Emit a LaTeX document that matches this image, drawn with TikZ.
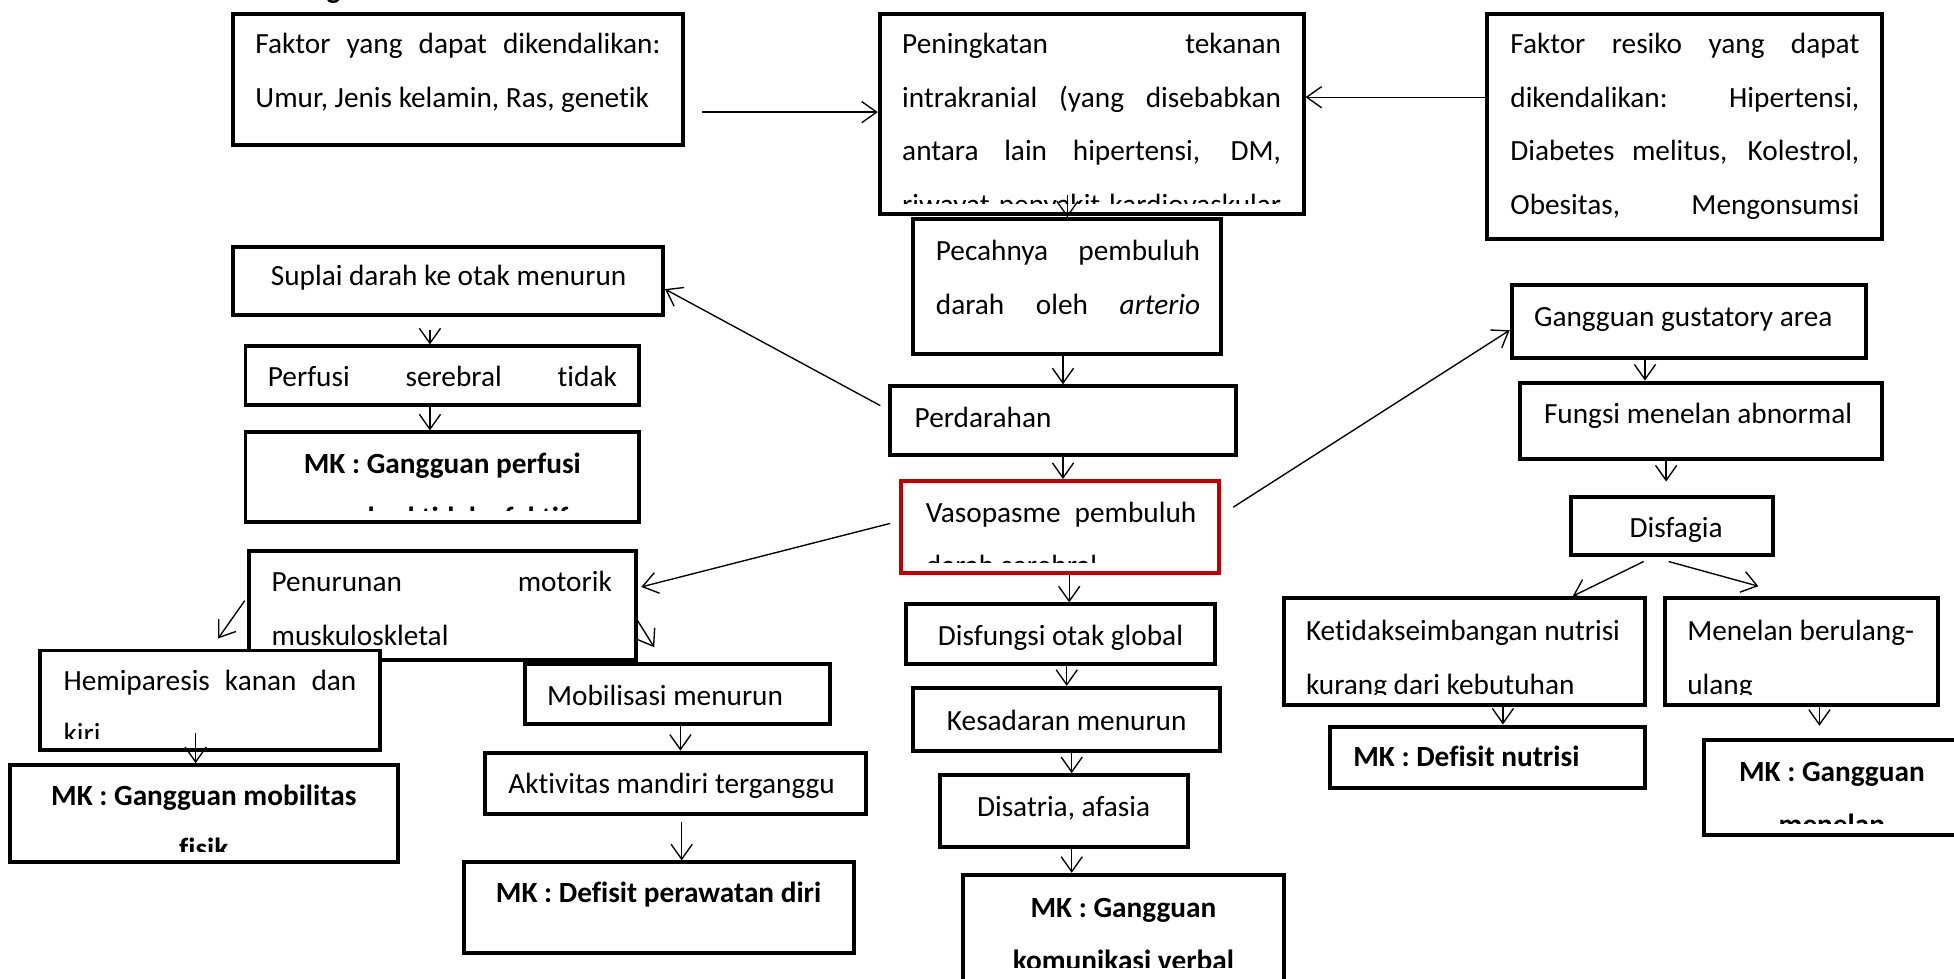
\documentclass[tikz,border=0pt]{standalone}
\usepackage{fontspec}
\setmainfont{Carlito}[Ligatures=NoCommon]
\usetikzlibrary{arrows.meta,fit}
\definecolor{boxred}{HTML}{C00000}
\newcommand{\fs}{\fontsize{11.75}{21.5}\selectfont}
\newcommand{\jl}[2]{\makebox[#1][s]{#2}}
\begin{document}
\begin{tikzpicture}[x=0.5pt,y=-0.5pt,
  box/.style={draw=black, line width=1.6pt, fill=white, inner sep=0pt, rectangle},
  redbox/.style={box, draw=boxred},
  arr/.style={-{Straight Barb[length=6pt,width=8.5pt]}, line width=0.55pt},
  lbl/.style={inner sep=0pt, outer sep=0pt, font=\fs},
  one/.style={lbl, anchor=base west},
  cone/.style={lbl, anchor=base},
  multi/.style={lbl, anchor=base west, align=flush left},
  cmulti/.style={lbl, anchor=base, align=flush center},
  bold/.style={font=\fs\bfseries}]
\useasboundingbox (0,0) rectangle (1568,785);
\fill[white] (0,0) rectangle (1568,785);
\clip (0,0) rectangle (1568,785);

% fragment at the top edge
\node[one, bold] (frag) at (262,-1) {g};

% ---- top row
\node[box, fit={(187,11) (548,116)}] (B1) {};
\node[multi, text width=164pt] (t1) at (205,43) {\jl{162.5pt}{Faktor yang dapat dikendalikan:}\\ Umur, Jenis kelamin, Ras, genetik};

\node[box, fit={(706,11) (1046,172)}] (B2) {};
\begin{scope}
\clip (706,11) rectangle (1046,163);
\node[multi, text width=153pt] (t2) at (724,43) {\jl{152pt}{Peningkatan tekanan}\\ \jl{152pt}{intrakranial (yang disebabkan}\\ \jl{152pt}{antara lain hipertensi, DM,}\\ \jl{152pt}{riwayat penyakit kardiovaskular}};
\end{scope}

\node[box, fit={(1193,11) (1510,192)}] (B3) {};
\node[multi, text width=141pt] (t3) at (1212,43) {\jl{140pt}{Faktor resiko yang dapat}\\ \jl{140pt}{dikendalikan: Hipertensi,}\\ \jl{140pt}{Diabetes melitus, Kolestrol,}\\ \jl{140pt}{Obesitas, Mengonsumsi}};

% ---- central column
\node[box, fit={(733,176) (980,284)}] (B4) {};
\node[multi, text width=107pt] (t4) at (751,209) {\jl{106pt}{Pecahnya pembuluh}\\ \jl{106pt}{darah oleh \textit{arterio}}};

\node[box, fit={(714,310) (992,365)}] (B5) {};
\node[one] (t5) at (734,343) {Perdarahan};

\node[redbox, fit={(723,386) (978,460)}] (Vaso) {};
\begin{scope}
\clip (723,386) rectangle (978,451);
\node[multi, text width=110pt] (t6) at (743,419) {\jl{108.5pt}{Vasopasme pembuluh}\\ darah serebral};
\end{scope}

\node[box, fit={(727,485) (975,533)}] (Disf) {};
\node[cone] (t7) at (851,518) {Disfungsi otak global};

\node[box, fit={(733,552) (979,603)}] (Kes) {};
\node[cone] (t8) at (856,586) {Kesadaran menurun};

\node[box, fit={(754,622) (953,680)}] (Dis) {};
\node[cone] (t9) at (853.5,655) {Disatria, afasia};

\node[box, fit={(773,702) (1030,792)}] (MKkom) {};
\begin{scope}
\clip (773,702) rectangle (1030,776);
\node[cmulti, bold, text width=125pt] (t10) at (901.5,736) {MK : Gangguan\\ komunikasi verbal};
\end{scope}

% ---- left column
\node[box, fit={(187,198) (532,253)}] (Sup) {};
\node[cone] (t11) at (360,229) {Suplai darah ke otak menurun};

\node[box, fit={(197,278) (513,325)}] (Perf) {};
\node[one] (t12) at (215,310) {\jl{140pt}{Perfusi serebral tidak}};

\node[box, fit={(197,347) (513,419)}] (MKperf) {};
\begin{scope}
\clip (197,347) rectangle (513,410);
\node[cmulti, bold, text width=150pt] (t13) at (355,380) {MK : Gangguan perfusi\\ serebral tidak efektif};
\end{scope}

\node[box, fit={(200,442) (510,530)}] (Pen) {};
\node[multi, text width=138pt] (t14) at (218,475) {\jl{136.5pt}{Penurunan motorik}\\ muskuloskletal};

\node[box, fit={(32,522) (305,602)}] (Hemi) {};
\begin{scope}
\clip (32,522) rectangle (305,593);
\node[multi, text width=119pt] (t15) at (51,554) {\jl{117.5pt}{Hemiparesis kanan dan}\\ kiri};
\end{scope}

\node[box, fit={(8,614) (319,692)}] (MKmob) {};
\begin{scope}
\clip (8,614) rectangle (319,683);
\node[cmulti, bold, text width=150pt] (t16) at (163.5,646) {MK : Gangguan mobilitas\\ fisik};
\end{scope}

\node[box, fit={(421,533) (666,581)}] (Mob) {};
\node[one] (t17) at (439,566) {Mobilisasi menurun};

\node[box, fit={(389,604) (695,653)}] (Akt) {};
\node[one] (t18) at (408,637) {Aktivitas mandiri terganggu};

\node[box, fit={(372,692) (685,765)}] (MKdp) {};
\node[cone, bold] (t19) at (528.5,724) {MK : Defisit perawatan diri};

% ---- right column
\node[box, fit={(1213,229) (1497,287)}] (Gust) {};
\node[one] (t20) at (1231,262) {Gangguan gustatory area};

\node[box, fit={(1220,307) (1510,368)}] (Fung) {};
\node[one] (t21) at (1239,340) {Fungsi menelan abnormal};

\node[box, fit={(1261,399) (1423,445)}] (Disfg) {};
\node[cone] (t22) at (1345,431) {Disfagia};

\node[box, fit={(1030,480) (1320,566)}] (Ket) {};
\begin{scope}
\clip (1030,480) rectangle (1320,557);
\node[multi, text width=135pt] (t23) at (1048,514) {Ketidakseimbangan nutrisi\\ kurang dari kebutuhan};
\end{scope}

\node[box, fit={(1336,480) (1555,566)}] (Men) {};
\begin{scope}
\clip (1336,480) rectangle (1555,557);
\node[multi, text width=100pt] (t24) at (1354,514) {Menelan berulang-\\ ulang};
\end{scope}

\node[box, fit={(1067,583) (1320,632)}] (MKdn) {};
\node[one, bold] (t25) at (1086,615) {MK : Defisit nutrisi};

\node[box, fit={(1367,594) (1574,670)}] (MKmen) {};
\begin{scope}
\clip (1367,594) rectangle (1574,661);
\node[cmulti, bold, text width=100pt] (t26) at (1470,627) {MK : Gangguan\\ menelan};
\end{scope}

% ---- connectors
\coordinate (a1s) at ([xshift=7pt,yshift=-13.25pt]B1.east);
\draw[arr] (a1s) -- (a1s -| B2.west);
\coordinate (a2s) at ([yshift=11.75pt]B3.west);
\draw[arr] (a2s) -- (a2s -| B2.east);
\draw[arr] ([yshift=9pt]B4.north) -- (B4.north);
\draw[arr] (B4.south -| B5.north) -- (B5.north);

\coordinate (a5s) at ([xshift=-3pt,yshift=6pt]B5.west);
\coordinate (a5e) at ([yshift=-3.25pt]Sup.east);
\draw[arr] (a5s) -- (a5e);
\coordinate (p1) at ([xshift=-5pt]Perf.north);
\coordinate (p1s) at (Sup.south -| p1);
\draw[arr] ([yshift=-5pt]p1s) -- (p1);
\coordinate (p2) at ([xshift=-5pt]MKperf.north);
\draw[arr] (Perf.south -| p2) -- (p2);

\draw[arr] (B5.south) -- (B5.south |- Vaso.north);
\coordinate (a9s) at ([xshift=5pt,yshift=8pt]Vaso.east);
\coordinate (a9e) at ([yshift=-3.5pt]Gust.west);
\draw[arr] (a9s) -- (a9e);
\coordinate (a10s) at ([xshift=-3.5pt,yshift=1.5pt]Vaso.west);
\coordinate (a10e) at ([xshift=1.5pt,yshift=7.5pt]Pen.east);
\draw[arr] (a10s) -- (a10e);
\coordinate (d1) at ([xshift=3.5pt]Disf.north);
\draw[arr] (Vaso.south -| d1) -- (d1);
\draw[arr] (Disf.south -| Kes.north) -- (Kes.north);
\coordinate (k1) at ([xshift=2pt]Kes.south);
\draw[arr] (k1) -- (k1 |- Dis.north);
\coordinate (k2) at ([xshift=3.25pt]Dis.south);
\draw[arr] (k2) -- (k2 |- MKkom.north);

\coordinate (g1) at ([xshift=-17.5pt]Gust.south);
\draw[arr] (g1) -- (g1 |- Fung.north);
\coordinate (f2) at ([xshift=-2.5pt,yshift=5.5pt]Disfg.north);
\draw[arr] (Fung.south -| f2) -- (f2);
\coordinate (s17) at ([xshift=-11.5pt,yshift=-2pt]Disfg.south);
\coordinate (e17) at ([xshift=43.5pt]Ket.north);
\draw[arr] (s17) -- (e17);
\coordinate (s18) at ([xshift=-1.5pt,yshift=-2pt]Disfg.south);
\coordinate (e18) at ([xshift=-17.25pt,yshift=4pt]Men.north);
\draw[arr] (s18) -- (e18);
\coordinate (s19) at ([xshift=15.5pt]Ket.south);
\draw[arr] (s19) -- (s19 |- MKdn.north);
\coordinate (s20) at ([xshift=7.25pt]Men.south);
\coordinate (e20) at (s20 |- MKmen.north);
\draw[arr] (s20) -- ([yshift=5pt]e20);

\coordinate (s21) at ([xshift=-1pt,yshift=2pt]Pen.west);
\coordinate (e21) at ([xshift=3.25pt,yshift=4pt]Hemi.north);
\draw[arr] (s21) -- (e21);
\coordinate (s22) at ([yshift=-6pt]Pen.east);
\coordinate (e22) at ([xshift=-9.25pt,yshift=6pt]Mob.north);
\draw[arr] (s22) -- (e22);
\coordinate (e23) at ([xshift=-3.25pt]MKmob.north);
\coordinate (s23) at (Hemi.south -| e23);
\draw[arr] ([yshift=7.5pt]s23) -- (e23);
\coordinate (s24) at ([xshift=1.25pt]Mob.south);
\draw[arr] (s24) -- (s24 |- Akt.north);
\coordinate (s25) at ([xshift=2.5pt,yshift=-2.5pt]Akt.south);
\draw[arr] (s25) -- (s25 |- MKdp.north);
\end{tikzpicture}
\end{document}
